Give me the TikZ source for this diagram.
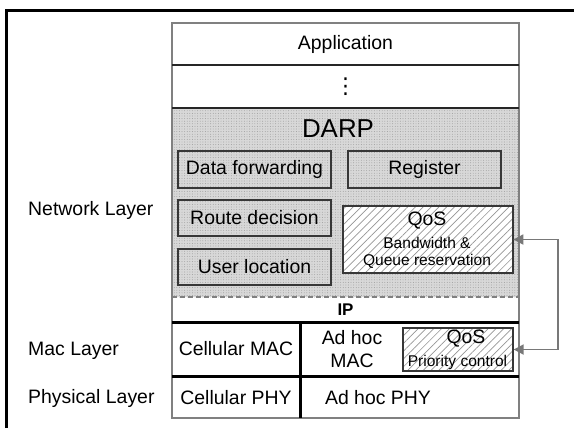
\documentclass[tikz,border=0pt]{standalone}
\usepackage{fontspec}
\setmainfont{Liberation Sans}
\newfontfamily\symfont{DejaVu Sans}
\usetikzlibrary{patterns.meta,arrows.meta}
\definecolor{speck}{RGB}{216,216,216}
\definecolor{speckdot}{RGB}{150,150,150}
\definecolor{rimgray}{RGB}{128,128,128}
\definecolor{boxline}{RGB}{55,55,55}
\definecolor{hatchgray}{RGB}{150,150,150}
\definecolor{arrowgray}{RGB}{120,120,120}

\tikzset{
  txt/.style={inner sep=0pt, font=\fontsize{19.5}{22}\selectfont},
  smalltxt/.style={inner sep=0pt, font=\fontsize{15.6}{18}\selectfont},
  modbox/.style={draw=boxline, line width=1.3bp, inner sep=0pt,
    font=\fontsize{19.5}{22}\selectfont},
  hatchbox/.style={modbox, preaction={fill=white},
    pattern={Lines[angle=45, distance=5.5bp, line width=0.7bp]},
    pattern color=hatchgray},
  rowline/.style={draw=black!85, line width=2bp},
  heavyline/.style={draw=black, line width=3bp},
  link/.style={draw=arrowgray, line width=1.8bp,
    {Triangle[length=10bp,width=10bp]}-{Triangle[length=10bp,width=10bp]}}
}

\begin{document}
\begin{tikzpicture}[x=1bp, y=-1bp]
\useasboundingbox (0,0) rectangle (574,428);

% page frame (open at right and bottom)
\draw[line width=3bp] (6.5,428) -- (6.5,10.5) -- (574,10.5);

% DARP region background
\fill[speck] (172,108) rectangle (519,297);
\fill[pattern={Dots[radius=0.45bp, distance=2.6bp]}, pattern color=speckdot]
  (172,108) rectangle (519,297);

% protocol stack outline and row separators
\draw[draw=rimgray, line width=1.6bp] (172,23) rectangle (519,418);
\draw[rowline] (172,65) -- (519,65);
\draw[rowline] (172,108) -- (519,108);
\draw[draw=rimgray, line width=1.2bp, dash pattern=on 5bp off 3bp] (172,297) -- (519,297);
\draw[heavyline] (172,322) -- (519,322);
\draw[heavyline] (172,376) -- (519,376);
\draw[heavyline] (300,322) -- (300,418);

% row texts
\node[txt] (app) at (345.5,44) {Application};
\node[inner sep=0pt, font=\symfont\fontsize{22}{24}\selectfont] (vdots) at (345.5,87) {⋮};
\node[inner sep=0pt, font=\fontsize{26}{28}\selectfont] (darp) at (338,129) {DARP};
\node[inner sep=0pt, font=\bfseries\fontsize{17}{19}\selectfont] (ip) at (345.5,310) {IP};

% DARP modules
\node[modbox, minimum width=153bp, minimum height=37bp] (df) at (254.5,169.5) {Data forwarding};
\node[modbox, minimum width=153bp, minimum height=37bp] (reg) at (424.5,169.5) {Register};
\node[modbox, minimum width=153bp, minimum height=36bp] (rd) at (254.5,218) {Route decision};
\node[modbox, minimum width=153bp, minimum height=36bp] (ul) at (254.5,267) {User location};
\node[hatchbox, minimum width=170bp, minimum height=67bp] (qb) at (428,239.5) {};
\node[txt] (qbt) at (427,221) {QoS};
\node[smalltxt] (qbw) at (427,242.5) {Bandwidth \&};
\node[smalltxt] (qbq) at (427,261.5) {Queue reservation};

% MAC and PHY rows
\node[txt] (cmac) at (236,349) {Cellular MAC};
\node[txt] (amac1) at (352,337.5) {Ad hoc};
\node[txt] (amac2) at (352,361) {MAC};
\node[hatchbox, minimum width=110bp, minimum height=43bp] (qs) at (458,349.5) {};
\node[txt] (qst) at (466,338.5) {QoS};
\node[smalltxt] (qsp) at (457.5,362) {Priority control};
\node[txt] (cphy) at (236,397.5) {Cellular PHY};
\node[txt] (aphy) at (378,397.5) {Ad hoc PHY};

% layer names
\node[txt, anchor=west] (net) at (28,210) {Network Layer};
\node[txt, anchor=west] (mac) at (28,350.5) {Mac Layer};
\node[txt, anchor=west] (phy) at (28,398.5) {Physical Layer};

% cross-layer QoS link
\draw[link] (qs.east) -- ++(44,0) |- (qb.east);
\end{tikzpicture}
\end{document}
